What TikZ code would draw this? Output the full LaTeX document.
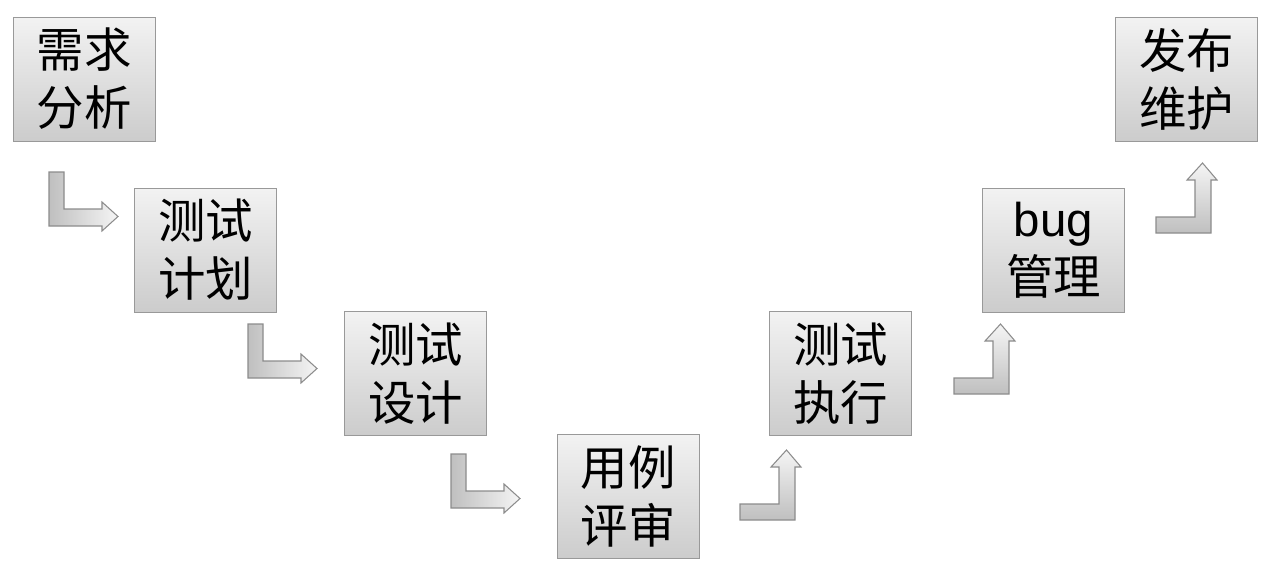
\documentclass[tikz,border=0pt]{standalone}
\usepackage{fontspec}
\newfontfamily\cjk{Noto Sans CJK SC}
\newfontfamily\latin{Liberation Sans}

\begin{document}
\begin{tikzpicture}[x=0.02cm,y=-0.02cm]
    \tikzstyle{stage}=[rectangle,draw=black!40,top color=black!5,bottom color=black!20,minimum width=2.84cm,minimum height=2.48cm,inner sep=0pt,align=center,font=\cjk\fontsize{27}{33}\selectfont]
    \tikzstyle{turn}=[draw=black!45,line width=0.6pt]
    \tikzset{down turn/.pic={\path[turn,left color=black!25,right color=black!4]
                (0,0) -- (15,0) -- (15,37) -- (53,37) -- (53,30) -- (69,44.5) -- (53,59) -- (53,54) -- (0,54) -- cycle;},
             up turn/.pic={\path[turn,bottom color=black!25,top color=black!4]
                (0,0) -- (55,0) -- (55,-53) -- (61,-53) -- (46.5,-70) -- (31,-53) -- (39,-53) -- (39,-16) -- (0,-16) -- cycle;}}

    \useasboundingbox (0,0) rectangle (1266,568);

    % Draw the stages, down one side of the V and up the other
    \foreach \name / \x / \y / \txt in {need/84/79/{需求\\分析}, plan/205.5/250/{测试\\计划},
            design/415.5/373.5/{测试\\设计}, review/628/496.5/{用例\\评审},
            exec/840.5/373.5/{测试\\执行}, bug/1053.5/250/{{\latin bug}\\管理},
            release/1186.5/79/{发布\\维护}}
        \node[stage] (\name) at (\x,\y) {\txt};

    % Draw the turning arrows between the stages
    \foreach \x / \y in {49/172,248/324,451/454}
        \pic at (\x,\y) {down turn};
    \foreach \x / \y in {740/520,954/394,1156/233}
        \pic at (\x,\y) {up turn};
\end{tikzpicture}
\end{document}
